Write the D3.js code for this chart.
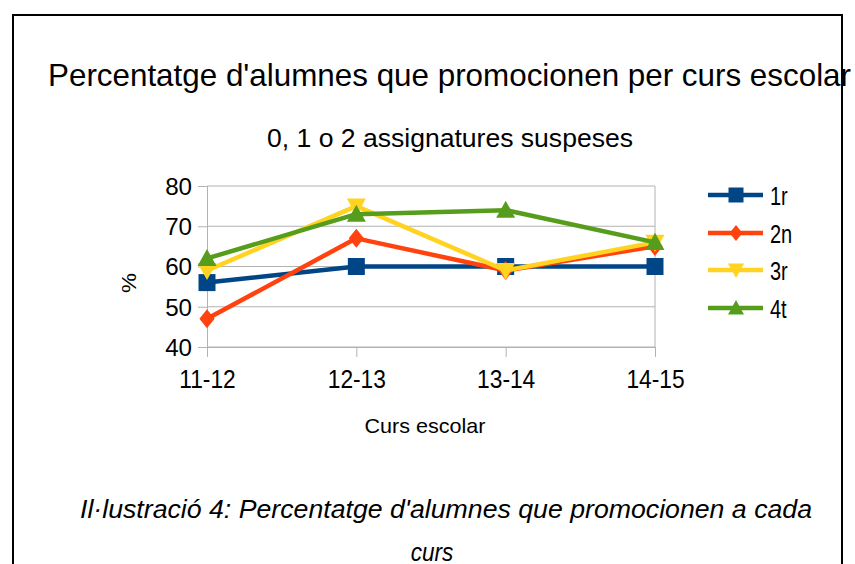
<!DOCTYPE html>
<html><head><meta charset="utf-8">
<script src="https://cdn.jsdelivr.net/npm/d3@7"></script>
<style>body{margin:0;background:#fff}svg{display:block}text{font-family:"Liberation Sans Narrow","Arial Narrow","Liberation Sans",sans-serif;fill:#000}</style>
</head><body><svg id="c" width="855" height="564"></svg>
<script>
const categories = ["11-12","12-13","13-14","14-15"];
const seriesNames = ["1r","2n","3r","4t"];
const s1r = [56,60,60,60];
const s2n = [47,67,59,65];
const s3r = [59,75,59,66];
const s4t = [62,73,74,66];
const yTicks = [40,50,60,70,80];
const colors = ["#004586","#ff420e","#ffd320","#579d1c"];
const markers = ["square","diamond","down","up"];
const allSeries = [s1r,s2n,s3r,s4t];

const svg = d3.select("#c");
svg.append("rect").attr("x",13).attr("y",15).attr("width",829).attr("height",560)
  .attr("fill","none").attr("stroke","#000").attr("stroke-width",2);

const L=207,R=655,T=186,B=347;
const x = d3.scalePoint().domain(categories).range([L,R]);
const y = d3.scaleLinear().domain([40,80]).range([B,T]);

function squeeze(sel,ratio){
  sel.each(function(){const n=this.getComputedTextLength();
    d3.select(this).attr("textLength",n*ratio).attr("lengthAdjust","spacingAndGlyphs");});
}
function txt(s,xx,yy,size,w,opts={}){
  const t=svg.append("text").attr("x",xx).attr("y",yy).attr("font-size",size)
    .attr("text-anchor",opts.anchor||"middle").text(s);
  if(opts.italic) t.attr("font-style","italic");
  if(w) t.attr("textLength",w).attr("lengthAdjust","spacingAndGlyphs");
  return t;
}
txt("Percentatge d'alumnes que promocionen per curs escolar",48,86,32,803,{anchor:"start"});
txt("0, 1 o 2 assignatures suspeses",450,147,26,366);

// grid
svg.append("g").selectAll("line").data(yTicks).join("line")
  .attr("x1",L).attr("x2",R).attr("y1",d=>y(d)).attr("y2",d=>y(d))
  .attr("stroke","#b3b3b3").attr("stroke-width",1);
svg.append("line").attr("x1",R).attr("x2",R).attr("y1",T).attr("y2",B).attr("stroke","#b3b3b3");

// axes
const ya = svg.append("g").attr("transform",`translate(${L},0)`).attr("font-family",null)
  .call(d3.axisLeft(y).tickValues(yTicks).tickSize(9).tickPadding(6));
ya.select(".domain").attr("stroke","#b3b3b3");
ya.selectAll(".tick line").attr("stroke","#b3b3b3");
ya.selectAll(".tick text").attr("font-size",23).attr("dy","0.36em").call(squeeze,1.05);

const xa = svg.append("g").attr("transform",`translate(0,${B})`).attr("font-family",null)
  .call(d3.axisBottom(x).tickSize(10).tickPadding(13));
xa.select(".domain").attr("stroke","#b3b3b3");
xa.selectAll(".tick line").attr("stroke","#b3b3b3");
xa.selectAll(".tick text").attr("font-size",25).attr("dy","0.71em").call(squeeze,0.91);

txt("Curs escolar",425,433,21,121);
svg.append("text").attr("transform","translate(136,283) rotate(-90)").attr("text-anchor","middle")
  .attr("font-size",21).attr("textLength",20).attr("lengthAdjust","spacingAndGlyphs").text("%");

function sym(type,size){
  if(type==="square") return d3.symbol(d3.symbolSquare, size*size)();
  if(type==="diamond"){const h=size/2;return `M0,${-h}L${h*0.8},0L0,${h}L${-h*0.8},0Z`;}
  const h=size/2;
  if(type==="up") return `M0,${-h}L${h},${h*0.8}L${-h},${h*0.8}Z`;
  return `M0,${h}L${h},${-h*0.8}L${-h},${-h*0.8}Z`;
}
const line = d3.line().x((d,i)=>x(categories[i])).y(d=>y(d));
allSeries.forEach((s,k)=>{
  svg.append("path").attr("d",line(s)).attr("fill","none").attr("stroke",colors[k])
    .attr("stroke-width",4.5).attr("stroke-linejoin","round");
  svg.append("g").selectAll("path").data(s).join("path")
    .attr("transform",(d,i)=>`translate(${x(categories[i])},${y(d)})`)
    .attr("d",sym(markers[k],k===0?17:19)).attr("fill",colors[k]);
});

// legend
const legY=[195,233,270,308];
seriesNames.forEach((n,k)=>{
  svg.append("line").attr("x1",708).attr("x2",763).attr("y1",legY[k]).attr("y2",legY[k])
    .attr("stroke",colors[k]).attr("stroke-width",4.5);
  svg.append("path").attr("transform",`translate(736,${legY[k]})`).attr("d",sym(markers[k],k===0?15:16)).attr("fill",colors[k]);
  txt(n,770,legY[k]+9.5,25,null,{anchor:"start"}).call(squeeze,0.8);
});

txt("Il·lustració 4: Percentatge d'alumnes que promocionen a cada",446,518,25,732,{italic:true});
txt("curs",432,561,25,null,{italic:true}).call(squeeze,0.9);
</script></body></html>
